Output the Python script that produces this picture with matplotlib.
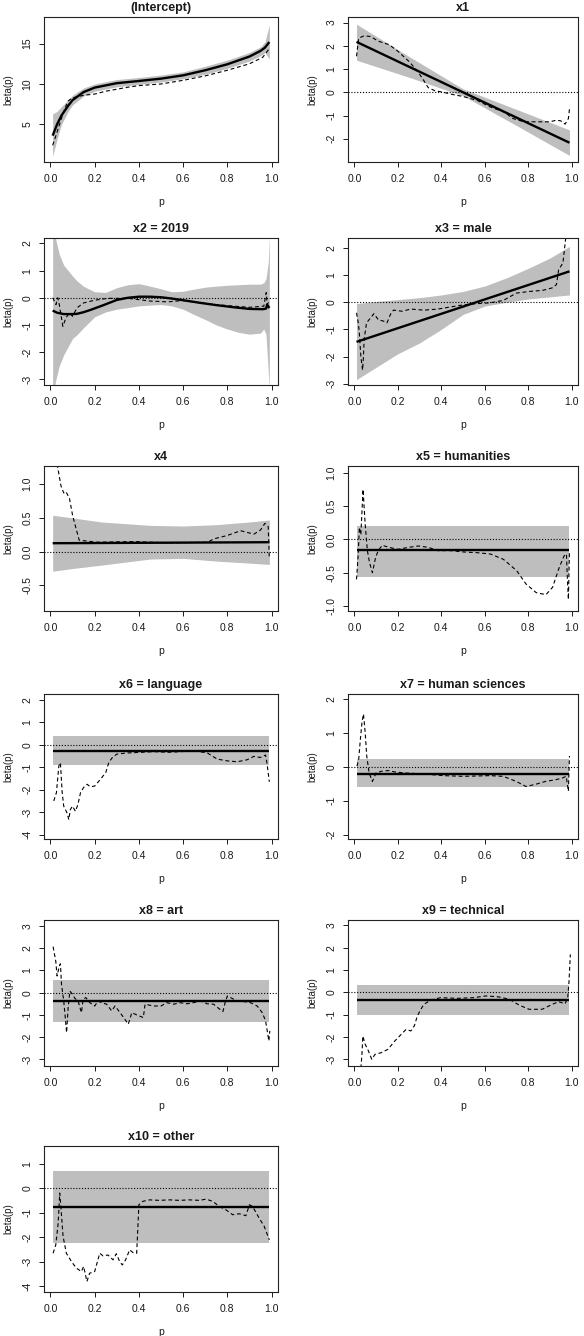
import matplotlib
matplotlib.use("Agg")
import matplotlib.pyplot as plt

plt.rcParams['font.family'] = ['Liberation Sans', 'DejaVu Sans']
plt.rcParams['axes.unicode_minus'] = False

# ---------------- data ----------------
# (Intercept)
icpt_band_p = [0.01, 0.03, 0.05, 0.08, 0.1, 0.15, 0.2, 0.3, 0.4, 0.5, 0.6, 0.7, 0.8, 0.9, 0.95, 0.97, 0.99]
icpt_band_hi = [6.3, 6.6, 7.2, 8.0, 8.6, 9.5, 10.0, 10.55, 10.8, 11.1, 11.5, 12.2, 12.95, 13.9, 14.6, 15.2, 17.3]
icpt_band_lo = [1.0, 3.2, 5.0, 6.6, 7.4, 8.5, 9.1, 9.65, 9.95, 10.25, 10.65, 11.2, 11.95, 12.85, 13.5, 13.9, 13.1]
icpt_fit_p = icpt_band_p
icpt_fit = [3.6, 5.0, 6.1, 7.3, 8.0, 9.0, 9.55, 10.1, 10.37, 10.66, 11.07, 11.7, 12.44, 13.4, 14.1, 14.5, 15.2]
icpt_qr_p = [0.01, 0.02, 0.04, 0.06, 0.08, 0.1, 0.12, 0.15, 0.2, 0.25, 0.3, 0.35, 0.4, 0.5, 0.6, 0.7, 0.8, 0.9, 0.96, 0.99]
icpt_qr = [2.4, 3.2, 4.9, 6.6, 7.9, 8.3, 8.4, 8.6, 8.75, 9.1, 9.35, 9.6, 9.8, 10.0, 10.45, 11.0, 11.7, 12.5, 13.3, 14.4]

# x1
x1_band_p = [0.01, 0.25, 0.5, 0.75, 0.99]
x1_band_hi = [2.93, 1.55, 0.15, -0.75, -1.62]
x1_band_lo = [1.38, 0.65, -0.15, -1.45, -2.72]
x1_fit_p = [0.01, 0.99]
x1_fit = [2.17, -2.17]
x1_qr_p = [0.01, 0.02, 0.045, 0.075, 0.11, 0.16, 0.2, 0.25, 0.29, 0.32, 0.34, 0.37, 0.41, 0.46, 0.5,
           0.565, 0.625, 0.69, 0.73, 0.78, 0.84, 0.9, 0.93, 0.95, 0.97, 0.985, 0.99]
x1_qr = [1.55, 2.33, 2.43, 2.4, 2.2, 2.05, 1.77, 1.34, 0.92, 0.5, 0.2, 0.07, 0.0, -0.11, -0.18,
         -0.35, -0.63, -0.85, -1.13, -1.27, -1.27, -1.27, -1.2, -1.23, -1.37, -1.13, -0.72]

# x2 = 2019
x2_band_p = [0.01, 0.025, 0.04, 0.06, 0.08, 0.1, 0.12, 0.15, 0.2, 0.25, 0.3, 0.35, 0.4, 0.45, 0.5, 0.55,
             0.6, 0.65, 0.7, 0.75, 0.8, 0.85, 0.9, 0.95, 0.965, 0.975, 0.985, 0.99]
x2_band_hi = [3.0, 2.1, 1.6, 1.2, 1.0, 0.8, 0.62, 0.42, 0.22, 0.2, 0.37, 0.48, 0.52, 0.43, 0.33, 0.22,
              0.24, 0.32, 0.39, 0.43, 0.46, 0.48, 0.5, 0.5, 0.55, 0.7, 1.3, 2.3]
x2_band_lo = [-3.6, -3.0, -2.5, -2.1, -1.8, -1.5, -1.36, -1.1, -0.7, -0.52, -0.42, -0.36, -0.3, -0.27, -0.25, -0.3,
              -0.42, -0.62, -0.8, -1.0, -1.15, -1.27, -1.34, -1.3, -1.15, -1.35, -2.7, -3.4]
x2_fit_p = [0.01, 0.03, 0.06, 0.1, 0.12, 0.15, 0.18, 0.21, 0.24, 0.3, 0.35, 0.4, 0.45, 0.5, 0.55, 0.6,
            0.68, 0.75, 0.83, 0.9, 0.96, 0.975, 0.98, 0.99]
x2_fit = [-0.47, -0.55, -0.6, -0.6, -0.59, -0.53, -0.45, -0.36, -0.27, -0.08, 0.0, 0.04, 0.04, 0.02, -0.03, -0.09,
          -0.19, -0.27, -0.35, -0.41, -0.42, -0.4, -0.25, -0.38]
x2_qr_p = [0.01, 0.025, 0.033, 0.04, 0.056, 0.07, 0.086, 0.1, 0.12, 0.15, 0.2, 0.26, 0.35, 0.45, 0.53, 0.6,
           0.68, 0.75, 0.83, 0.9, 0.965, 0.976, 0.98, 0.99]
x2_qr = [0.0, -0.25, 0.0, -0.25, -1.05, -0.74, -0.56, -0.68, -0.37, -0.19, -0.09, -0.02, -0.02, -0.12, -0.15, -0.1,
         -0.19, -0.25, -0.31, -0.35, -0.31, 0.19, -0.25, -0.12]

# x3 = male
x3_band_p = [0.01, 0.1, 0.2, 0.3, 0.4, 0.5, 0.6, 0.7, 0.8, 0.9, 0.99]
x3_band_hi = [-0.05, 0.03, 0.1, 0.17, 0.27, 0.4, 0.6, 0.9, 1.25, 1.63, 2.06]
x3_band_lo = [-2.85, -2.4, -1.9, -1.5, -1.0, -0.45, -0.14, 0.0, 0.12, 0.2, 0.27]
x3_fit_p = [0.01, 0.99]
x3_fit = [-1.46, 1.14]
x3_qr_p = [0.01, 0.018, 0.023, 0.03, 0.038, 0.042, 0.045, 0.056, 0.068, 0.09, 0.11, 0.136, 0.15, 0.166, 0.18,
           0.22, 0.26, 0.32, 0.385, 0.445, 0.505, 0.565, 0.625, 0.686, 0.746, 0.807, 0.867, 0.91, 0.93, 0.94,
           0.96, 0.97, 0.976]
x3_qr = [-0.39, -0.76, -1.13, -2.0, -2.5, -2.0, -1.37, -0.76, -0.64, -0.42, -0.64, -0.7, -0.76, -0.45, -0.29,
         -0.33, -0.25, -0.29, -0.25, -0.17, -0.09, -0.05, -0.02, 0.07, 0.34, 0.4, 0.44, 0.53, 0.65, 1.2,
         1.45, 2.18, 2.6]

# x4
x4_band_p = [0.01, 0.1, 0.23, 0.45, 0.6, 0.75, 0.9, 0.99]
x4_band_hi = [0.54, 0.5, 0.44, 0.39, 0.38, 0.4, 0.44, 0.47]
x4_band_lo = [-0.29, -0.25, -0.2, -0.11, -0.1, -0.14, -0.17, -0.19]
x4_fit_p = [0.01, 0.99]
x4_fit = [0.125, 0.14]
x4_qr_p = [0.03, 0.048, 0.06, 0.07, 0.086, 0.1, 0.116, 0.13, 0.21, 0.38, 0.53, 0.71, 0.74, 0.8, 0.86, 0.92,
           0.95, 0.97, 0.985, 0.99]
x4_qr = [1.3, 0.97, 0.87, 0.89, 0.79, 0.54, 0.34, 0.17, 0.14, 0.15, 0.13, 0.14, 0.19, 0.24, 0.31, 0.26,
         0.32, 0.42, 0.37, -0.1]

# x5 = humanities
x5_band_p = [0.01, 0.99]
x5_band_hi = [0.2, 0.2]
x5_band_lo = [-0.56, -0.56]
x5_fit_p = [0.01, 0.99]
x5_fit = [-0.165, -0.165]
x5_qr_p = [0.01, 0.018, 0.023, 0.03, 0.04, 0.05, 0.06, 0.07, 0.083, 0.098, 0.11, 0.128, 0.16, 0.2, 0.25, 0.295,
           0.34, 0.385, 0.445, 0.505, 0.565, 0.626, 0.686, 0.747, 0.79, 0.837, 0.882, 0.912, 0.943, 0.965,
           0.976, 0.98, 0.985, 0.99]
x5_qr = [-0.6, -0.22, 0.18, 0.07, 0.75, 0.22, -0.17, -0.35, -0.5, -0.27, -0.17, -0.09, -0.12, -0.15, -0.12, -0.1,
         -0.12, -0.17, -0.17, -0.19, -0.2, -0.22, -0.3, -0.47, -0.67, -0.8, -0.83, -0.72, -0.42, -0.25,
         -0.22, -0.57, -0.9, -0.17]

# x6 = language
x6_band_p = [0.01, 0.99]
x6_band_hi = [0.37, 0.37]
x6_band_lo = [-0.9, -0.9]
x6_fit_p = [0.01, 0.99]
x6_fit = [-0.3, -0.3]
x6_qr_p = [0.015, 0.027, 0.038, 0.045, 0.053, 0.06, 0.075, 0.083, 0.09, 0.1, 0.113, 0.124, 0.136, 0.15, 0.166,
           0.18, 0.2, 0.226, 0.25, 0.264, 0.28, 0.3, 0.347, 0.41, 0.47, 0.53, 0.59, 0.65, 0.71, 0.754, 0.8,
           0.845, 0.89, 0.92, 0.95, 0.973, 0.98, 0.99]
x6_qr = [-2.5, -2.13, -0.94, -0.8, -2.13, -2.73, -3.03, -3.33, -2.88, -2.73, -2.96, -2.66, -2.13, -1.9, -1.76,
         -1.87, -1.84, -1.54, -1.24, -0.79, -0.57, -0.42, -0.37, -0.34, -0.31, -0.34, -0.31, -0.27, -0.37, -0.64, -0.72,
         -0.76, -0.67, -0.52, -0.57, -0.46, -0.87, -1.65]

# x7 = human sciences
x7_band_p = [0.01, 0.99]
x7_band_hi = [0.22, 0.22]
x7_band_lo = [-0.6, -0.6]
x7_fit_p = [0.01, 0.99]
x7_fit = [-0.2, -0.2]
x7_qr_p = [0.012, 0.02, 0.027, 0.035, 0.042, 0.05, 0.057, 0.068, 0.083, 0.1, 0.125, 0.156, 0.186, 0.23, 0.32,
           0.41, 0.5, 0.625, 0.685, 0.745, 0.79, 0.837, 0.88, 0.927, 0.957, 0.975, 0.985, 0.99]
x7_qr = [0.02, 0.22, 0.76, 1.31, 1.56, 1.0, 0.32, -0.18, -0.43, -0.18, -0.13, -0.11, -0.15, -0.18, -0.21,
         -0.26, -0.28, -0.26, -0.28, -0.43, -0.58, -0.51, -0.43, -0.38, -0.33, -0.28, -0.72, 0.32]

# x8 = art
x8_band_p = [0.01, 0.99]
x8_band_hi = [0.57, 0.57]
x8_band_lo = [-1.3, -1.3]
x8_fit_p = [0.01, 0.99]
x8_fit = [-0.37, -0.37]
x8_qr_p = [0.012, 0.024, 0.03, 0.04, 0.045, 0.05, 0.06, 0.067, 0.073, 0.08, 0.088, 0.1, 0.11, 0.125, 0.14,
           0.148, 0.16, 0.178, 0.2, 0.216, 0.23, 0.254, 0.277, 0.292, 0.315, 0.337, 0.352, 0.368, 0.39, 0.42,
           0.428, 0.466, 0.5, 0.526, 0.557, 0.587, 0.617, 0.647, 0.678, 0.708, 0.738, 0.76, 0.78, 0.79,
           0.8, 0.814, 0.844, 0.874, 0.905, 0.935, 0.958, 0.973, 0.983, 0.988, 0.992]
x8_qr = [2.07, 1.42, 0.75, 1.2, 1.3, 0.37, -0.37, -1.12, -1.8, -0.67, 0.07, -0.07, -0.25, -0.37, -0.9,
         -0.3, -0.22, -0.45, -0.6, -0.37, -0.45, -0.52, -0.82, -0.6, -0.9, -1.2, -1.42, -0.9, -1.0, -1.12,
         -0.52, -0.6, -0.6, -0.45, -0.52, -0.45, -0.5, -0.45, -0.37, -0.5, -0.52, -0.7, -0.85, -0.45,
         -0.15, -0.22, -0.37, -0.4, -0.45, -0.6, -0.9, -1.27, -1.87, -2.17, -1.72]

# x9 = technical
x9_band_p = [0.01, 0.99]
x9_band_hi = [0.33, 0.33]
x9_band_lo = [-1.03, -1.03]
x9_fit_p = [0.01, 0.99]
x9_fit = [-0.34, -0.34]
x9_qr_p = [0.03, 0.035, 0.039, 0.05, 0.065, 0.08, 0.095, 0.125, 0.155, 0.186, 0.216, 0.238, 0.26, 0.276, 0.29,
           0.306, 0.32, 0.344, 0.366, 0.397, 0.472, 0.548, 0.608, 0.668, 0.713, 0.758, 0.804, 0.864, 0.91,
           0.94, 0.97, 0.982, 0.988, 0.994]
x9_qr = [-3.4, -2.78, -1.96, -2.33, -2.63, -3.0, -2.78, -2.7, -2.55, -2.18, -1.88, -1.66, -1.73, -1.5, -1.06,
         -0.76, -0.54, -0.39, -0.31, -0.24, -0.27, -0.24, -0.16, -0.21, -0.31, -0.57, -0.76, -0.76, -0.54,
         -0.42, -0.51, -0.24, 0.51, 1.7]

# x10 = other
x10_band_p = [0.01, 0.99]
x10_band_hi = [0.73, 0.73]
x10_band_lo = [-2.25, -2.25]
x10_fit_p = [0.01, 0.99]
x10_fit = [-0.77, -0.77]
x10_qr_p = [0.012, 0.024, 0.035, 0.042, 0.047, 0.057, 0.072, 0.095, 0.117, 0.14, 0.15, 0.165, 0.177, 0.2, 0.223,
            0.238, 0.26, 0.283, 0.298, 0.313, 0.325, 0.34, 0.358, 0.373, 0.39, 0.4, 0.418, 0.448, 0.493, 0.538,
            0.583, 0.629, 0.674, 0.704, 0.734, 0.764, 0.794, 0.824, 0.854, 0.884, 0.9, 0.914, 0.944, 0.967, 0.99]
x10_qr = [-2.66, -2.32, -1.42, -0.19, -0.74, -1.97, -2.66, -3.0, -3.27, -3.41, -3.2, -3.82, -3.48, -3.41, -2.66,
          -2.77, -2.73, -2.93, -2.68, -3.0, -3.14, -2.93, -2.52, -2.63, -2.66, -0.67, -0.53, -0.47, -0.49, -0.47,
          -0.49, -0.47, -0.49, -0.44, -0.53, -0.74, -0.88, -1.08, -1.04, -1.12, -0.67, -0.74, -1.22, -1.56, -2.11]

titles = ['(Intercept)', 'x1', 'x2 = 2019', 'x3 = male', 'x4', 'x5 = humanities',
          'x6 = language', 'x7 = human sciences', 'x8 = art', 'x9 = technical', 'x10 = other']

ylims = [(0.33, 18.3), (-3.0, 3.24), (-3.21, 2.2), (-3.05, 2.37), (-0.88, 1.27), (-1.075, 1.1),
         (-4.19, 2.25), (-2.13, 2.15), (-3.3, 3.27), (-3.3, 3.24), (-4.25, 1.74)]
yticks = [[5, 10, 15], [-2, -1, 0, 1, 2, 3], [-3, -2, -1, 0, 1, 2], [-3, -2, -1, 0, 1, 2],
          [-0.5, 0.0, 0.5, 1.0], [-1.0, -0.5, 0.0, 0.5, 1.0], [-4, -3, -2, -1, 0, 1, 2],
          [-2, -1, 0, 1, 2], [-3, -2, -1, 0, 1, 2, 3], [-3, -2, -1, 0, 1, 2, 3], [-4, -3, -2, -1, 0, 1]]

panels = [
    (icpt_band_p, icpt_band_lo, icpt_band_hi, icpt_fit_p, icpt_fit, icpt_qr_p, icpt_qr),
    (x1_band_p, x1_band_lo, x1_band_hi, x1_fit_p, x1_fit, x1_qr_p, x1_qr),
    (x2_band_p, x2_band_lo, x2_band_hi, x2_fit_p, x2_fit, x2_qr_p, x2_qr),
    (x3_band_p, x3_band_lo, x3_band_hi, x3_fit_p, x3_fit, x3_qr_p, x3_qr),
    (x4_band_p, x4_band_lo, x4_band_hi, x4_fit_p, x4_fit, x4_qr_p, x4_qr),
    (x5_band_p, x5_band_lo, x5_band_hi, x5_fit_p, x5_fit, x5_qr_p, x5_qr),
    (x6_band_p, x6_band_lo, x6_band_hi, x6_fit_p, x6_fit, x6_qr_p, x6_qr),
    (x7_band_p, x7_band_lo, x7_band_hi, x7_fit_p, x7_fit, x7_qr_p, x7_qr),
    (x8_band_p, x8_band_lo, x8_band_hi, x8_fit_p, x8_fit, x8_qr_p, x8_qr),
    (x9_band_p, x9_band_lo, x9_band_hi, x9_fit_p, x9_fit, x9_qr_p, x9_qr),
    (x10_band_p, x10_band_lo, x10_band_hi, x10_fit_p, x10_fit, x10_qr_p, x10_qr),
]

# ---------------- layout (pixels) ----------------
W, H = 584, 1336
col_x = [(44, 278), (348, 578)]
row_y = [(17, 162), (238, 385), (466, 611), (694, 839), (920, 1066), (1146, 1292)]

fig = plt.figure(figsize=(W / 100, H / 100), dpi=100)
txt = '#1a1a1a'

for i, (bp, blo, bhi, fp, fv, qp, qv) in enumerate(panels):
    r, c = divmod(i, 2)
    x0, x1 = col_x[c]
    y0, y1 = row_y[r]
    ax = fig.add_axes([x0 / W, 1 - y1 / H, (x1 - x0) / W, (y1 - y0) / H])

    ax.fill_between(bp, blo, bhi, color='#bebebe', lw=0)
    ax.axhline(0, color='black', lw=0.8, ls=(0, (1, 1.6)))
    ax.plot(fp, fv, color='black', lw=1.7, solid_capstyle='butt')
    ax.plot(qp, qv, color='black', lw=0.8, ls=(0, (3.5, 2.5)))

    ax.set_xlim(-0.0292, 1.0292)
    ax.set_ylim(*ylims[i])
    ax.set_xticks([0.0, 0.2, 0.4, 0.6, 0.8, 1.0])
    ax.set_xticklabels(['0.0', '0.2', '0.4', '0.6', '0.8', '1.0'])
    ax.set_yticks(yticks[i])
    if i in (4, 5):
        ax.set_yticklabels(['%.1f' % v for v in yticks[i]])
    else:
        ax.set_yticklabels([str(v) for v in yticks[i]])
    ax.tick_params(direction='out', length=3.5, width=0.7, labelsize=7.5, colors=txt, pad=5)
    for lab in ax.get_yticklabels():
        lab.set_rotation(90)
        lab.set_va('center')
    for s in ax.spines.values():
        s.set_linewidth(0.8)
        s.set_color('#222222')

    ax.set_title(titles[i], fontsize=9, fontweight='bold', color=txt, pad=4)
    ax.set_xlabel('p', fontsize=7.5, color=txt)
    ax.set_ylabel('beta(p)', fontsize=7, color=txt)
    ax.xaxis.set_label_coords(0.5, -40 / (y1 - y0))
    ax.xaxis.label.set_va('center')
    ax.yaxis.set_label_coords(-36 / (x1 - x0), 0.5)
    ax.yaxis.label.set_va('center')

fig.savefig('out.png', dpi=100, facecolor='white')
